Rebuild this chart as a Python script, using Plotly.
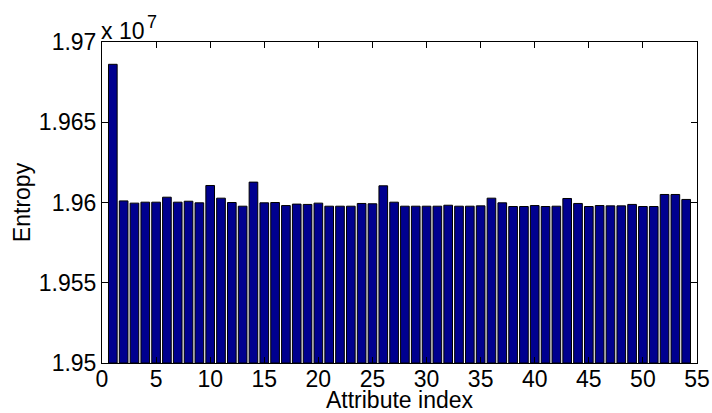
import plotly.graph_objects as go

# Entropy per attribute, in units of 1e7
attribute_index = list(range(1, 55))
entropy_e7 = [
    1.96861, 1.96010, 1.95996, 1.96002, 1.96002, 1.96033, 1.96002, 1.96008, 1.95998, 1.96106,
    1.96027, 1.96000, 1.95977, 1.96127, 1.95998, 1.96000, 1.95981, 1.95990, 1.95988, 1.95996,
    1.95977, 1.95977, 1.95977, 1.95994, 1.95992, 1.96104, 1.96002, 1.95977, 1.95977, 1.95977,
    1.95977, 1.95983, 1.95977, 1.95977, 1.95979, 1.96027, 1.95998, 1.95975, 1.95975, 1.95981,
    1.95975, 1.95977, 1.96025, 1.95994, 1.95975, 1.95981, 1.95979, 1.95979, 1.95988, 1.95975,
    1.95975, 1.96050, 1.96050, 1.96019,
]

x_ticks = list(range(0, 56, 5))
y_ticks = [1.95, 1.955, 1.96, 1.965, 1.97]
y_tick_text = ["1.95", "1.955", "1.96", "1.965", "1.97"]
Y_BASE = 1.95

font = dict(family="Liberation Sans, Arial, sans-serif", size=23, color="black")

fig = go.Figure(
    go.Bar(
        x=attribute_index,
        y=[v - Y_BASE for v in entropy_e7],
        base=Y_BASE,
        width=0.8,
        marker=dict(color="#00008F", line=dict(color="black", width=1)),
    )
)

axis_common = dict(
    showline=True, linecolor="black", linewidth=1, mirror="allticks",
    ticks="inside", ticklen=6, tickcolor="black", showgrid=False, zeroline=False,
    tickfont=font, automargin=False,
)

fig.update_layout(
    width=712, height=413,
    margin=dict(l=102, r=15, t=42, b=50),
    paper_bgcolor="white", plot_bgcolor="white",
    font=font,
    showlegend=False,
    xaxis=dict(range=[0, 55], tickvals=x_ticks, ticklabelstandoff=-5,
               title=dict(text="Attribute index", font=font, standoff=5), **axis_common),
    yaxis=dict(range=[1.95, 1.97], tickvals=y_ticks, ticktext=y_tick_text, ticklabelstandoff=0,
               title=dict(text="Entropy", font=font, standoff=1), **axis_common),
    annotations=[
        dict(text="x 10", xref="paper", yref="paper", x=0.0, y=1.0,
             xanchor="left", yanchor="bottom", showarrow=False, font=font,
             xshift=-3, yshift=-4),
        dict(text="7", xref="paper", yref="paper", x=0.0, y=1.0,
             xanchor="left", yanchor="bottom", showarrow=False,
             font=dict(family=font["family"], size=18, color="black"),
             xshift=43, yshift=8),
    ],
)

fig.write_html("out.html")
